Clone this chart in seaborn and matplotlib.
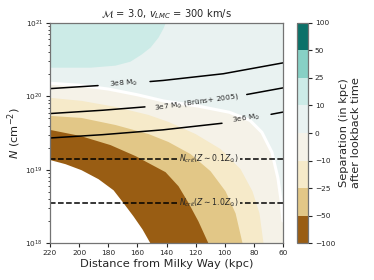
import numpy as np
import matplotlib
matplotlib.use('Agg')
import matplotlib as mpl
import matplotlib.pyplot as plt
import seaborn as sns

sns.set_style('ticks')
plt.rcParams['font.family'] = ['DejaVu Sans']

# separation levels (kpc) of the filled contours
levels = [-100, -50, -25, -10, 0, 10, 25, 50, 100]

# level boundaries: distance (kpc) -> log10 N
bnd_m100_d = [220, 209.7, 198.7, 187.0, 176.7, 169.9, 163.0, 156.8, 151.3]
bnd_m100_logn = [19.137, 19.082, 19.0, 18.877, 18.726, 18.552, 18.37, 18.192, 18.0]

bnd_m50_d = [220, 199.4, 178.8, 161.6, 151.3, 141.0, 132.1, 125.2, 118.4, 111.5]
bnd_m50_logn = [19.548, 19.466, 19.342, 19.192, 19.082, 18.973, 18.781, 18.552, 18.301, 18.0]

bnd_m25_d = [220, 198.7, 175.4, 152.7, 139.0, 123.8, 110.1, 99.8, 92.9, 88.1]
bnd_m25_logn = [19.740, 19.712, 19.616, 19.493, 19.384, 19.219, 18.986, 18.712, 18.411, 18.0]

bnd_m10_d = [220, 198.7, 175.4, 152.7, 139.0, 120.4, 103.2, 89.5, 81.3, 76.5, 73.7]
bnd_m10_logn = [19.986, 19.945, 19.863, 19.753, 19.658, 19.493, 19.288, 19.014, 18.712, 18.411, 18.0]

bnd_0_d = [220, 199.4, 178.8, 158.2, 141.0, 117.0, 96.4, 82.6, 74.4, 67.5, 63.4, 61.3, 60.0]
bnd_0_logn = [20.178, 20.151, 20.096, 20.014, 19.932, 19.863, 19.781, 19.671, 19.507,
              19.233, 18.877, 18.575, 18.301]

bnd_10_d = [220, 192.5, 175.4, 165.1, 157.5, 151.3, 145.8, 142.4, 141.0]
bnd_10_logn = [20.397, 20.397, 20.425, 20.479, 20.575, 20.671, 20.808, 20.932, 21.0]

# cloud mass lines
mass_d = [220, 180, 140, 100, 60]
mass_3e8 = [20.105, 20.155, 20.22, 20.31, 20.456]
mass_3e7 = [19.765, 19.815, 19.88, 19.97, 20.115]
mass_3e6 = [19.432, 19.482, 19.547, 19.637, 19.785]

# critical column densities
ncrit_01 = 1.42e19
ncrit_10 = 3.56e18

cmap = plt.get_cmap('BrBG')
lev = np.array(levels, dtype=float)
mids = 0.5 * (lev[:-1] + lev[1:])
colors = cmap(mpl.colors.Normalize(-100, 100)(mids))

dgrid = np.linspace(60, 220, 1601)


def boundary(d, logn, below):
    d = np.asarray(d, dtype=float)
    logn = np.asarray(logn, dtype=float)
    o = np.argsort(d)
    return 10 ** np.interp(dgrid, d[o], logn[o], left=below)


fig = plt.figure(figsize=(3.74, 2.8), dpi=100)
ax = fig.add_axes([0.1337, 0.132, 0.623, 0.786])
cax = fig.add_axes([0.794, 0.132, 0.0294, 0.786])

top = 1e21
bounds = [boundary(bnd_m100_d, bnd_m100_logn, 18.0),
          boundary(bnd_m50_d, bnd_m50_logn, 18.0),
          boundary(bnd_m25_d, bnd_m25_logn, 18.0),
          boundary(bnd_m10_d, bnd_m10_logn, 18.0),
          boundary(bnd_0_d, bnd_0_logn, 18.0),
          boundary(bnd_10_d, bnd_10_logn, 21.0)]
for b, c in zip(bounds, colors):
    ax.fill_between(dgrid, b, top, color=c, lw=0)
ax.plot(dgrid, bounds[4], color='white', lw=2.2)

# mass lines with inline labels
mass_lines = [(mass_3e8, (151.3, 187.0), 169, r'3e8 M$_{\odot}$', 5),
              (mass_3e7, (84.9, 154.8), 119.7, r'3e7 M$_{\odot}$ (Brüns+ 2005)', 8),
              (mass_3e6, (68.2, 101.9), 85, r'3e6 M$_{\odot}$', 9)]
for vals, gap, xl, lab, rot in mass_lines:
    yy = 10 ** np.interp(dgrid, mass_d[::-1], vals[::-1])
    yy_plot = np.where((dgrid > gap[0]) & (dgrid < gap[1]), np.nan, yy)
    ax.plot(dgrid, yy_plot, color='black', lw=1.1)
    yl = 10 ** np.interp(xl, mass_d[::-1], vals[::-1])
    ax.text(xl, yl, lab, rotation=rot, ha='center', va='center', fontsize=5.3)

for nc, lab in [(ncrit_01, r'$N_{crit}(Z \sim 0.1Z_{\odot})$'),
                (ncrit_10, r'$N_{crit}(Z \sim 1.0Z_{\odot})$')]:
    ax.hlines(nc, 132.8, 220, colors='black', linestyles='--', lw=1.1)
    ax.hlines(nc, 60, 89.6, colors='black', linestyles='--', lw=1.1)
    ax.text(111.2, nc, lab, ha='center', va='center', fontsize=5.6)

ax.set_yscale('log')
ax.set_xlim(220, 60)
ax.set_ylim(1e18, 1e21)
ax.set_xticks([220, 200, 180, 160, 140, 120, 100, 80, 60])
ax.set_xlabel('Distance from Milky Way (kpc)', fontsize=8.2, labelpad=2)
ax.set_ylabel(r'$N$ (cm$^{-2}$)', fontsize=8.2, labelpad=2)
ax.set_title(r'$\mathcal{M}$ = 3.0, $v_{LMC}$ = 300 km/s', fontsize=7.1, pad=4)
ax.tick_params(axis='both', which='major', labelsize=5.3, length=3, width=0.8, pad=2)
ax.tick_params(axis='y', which='minor', length=1.8, width=0.6)
for s in ax.spines.values():
    s.set_color('0.45')
    s.set_linewidth(0.9)

norm = mpl.colors.BoundaryNorm(levels, len(colors))
sm = mpl.cm.ScalarMappable(norm=norm, cmap=mpl.colors.ListedColormap(colors))
cbar = fig.colorbar(sm, cax=cax, ticks=levels)
cbar.set_label('Separation (in kpc)\nafter lookback time', fontsize=8.2, labelpad=3)
cbar.ax.tick_params(labelsize=5.3, length=3, width=0.8, pad=2)
cbar.outline.set_edgecolor('0.45')
cbar.outline.set_linewidth(0.9)

fig.savefig('out.png', dpi=100)
